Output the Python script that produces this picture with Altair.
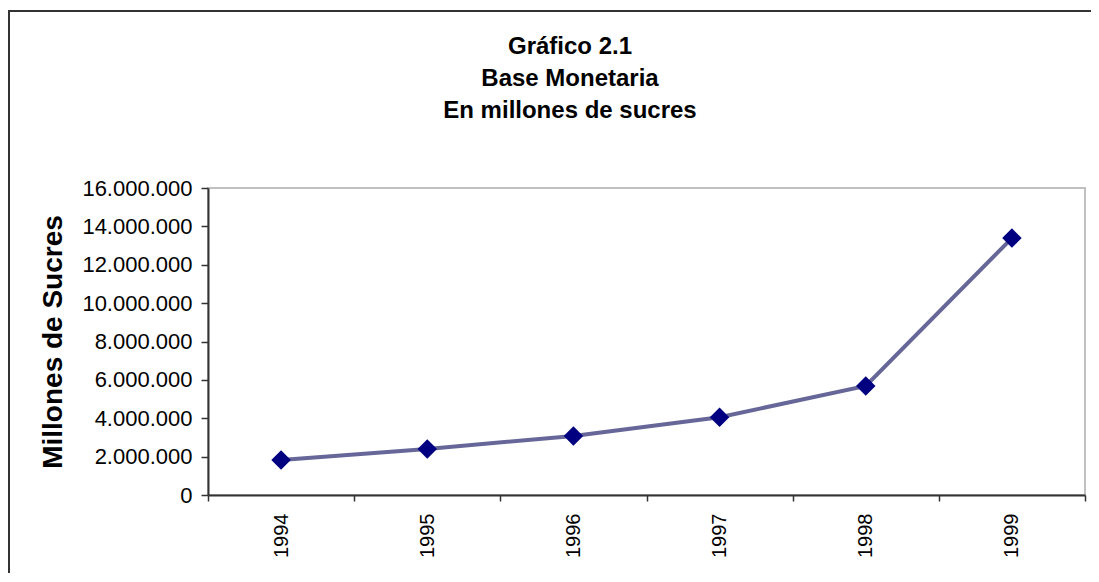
import altair as alt
import pandas as pd

years = ["1994", "1995", "1996", "1997", "1998", "1999"]
base_monetaria = [1826000, 2400000, 3078000, 4053000, 5686000, 13390000]
y_ticks = [0, 2000000, 4000000, 6000000, 8000000, 10000000, 12000000, 14000000, 16000000]
title_lines = ["Gráfico 2.1", "Base Monetaria", "En millones de sucres"]
y_title = "Millones de Sucres"

FONT = "Liberation Sans"

df = pd.DataFrame({"year": years, "value": base_monetaria})

x_enc = alt.X(
    "year:O",
    sort=years,
    scale=alt.Scale(paddingInner=0, paddingOuter=0),
    axis=alt.Axis(
        title=None,
        tickBand="extent",
        labelAngle=-90,
        labelFontSize=20,
        labelFont=FONT,
        labelColor="#000000",
        labelPadding=12,
        labelOverlap=False,
        tickSize=6,
        tickColor="#333333",
        tickWidth=1.5,
        domainColor="#333333",
        domainWidth=2,
        grid=False,
    ),
)
y_enc = alt.Y(
    "value:Q",
    scale=alt.Scale(domain=[0, 16000000], nice=False),
    axis=alt.Axis(
        title=y_title,
        values=y_ticks,
        labelExpr="join(split(format(datum.value, ','), ','), '.')",
        labelFontSize=22,
        labelFont=FONT,
        labelColor="#000000",
        labelPadding=9,
        labelOverlap=False,
        labelBound=False,
        tickSize=7,
        tickColor="#333333",
        tickWidth=1.5,
        domainColor="#333333",
        domainWidth=2,
        grid=False,
        titleFont=FONT,
        titleFontSize=28,
        titleFontWeight="bold",
        titleColor="#000000",
        titleAngle=270,
        titleX=-155,
        titleY=153.5,
        titleAlign="center",
        titleBaseline="middle",
    ),
)

base = alt.Chart(df).encode(x=x_enc, y=y_enc)
line = base.mark_line(color="#666699", strokeWidth=4)
points = base.mark_point(shape="diamond", filled=True, size=380, color="#000080", opacity=1)

one = pd.DataFrame({"k": [0]})
frame_top = alt.Chart(one).mark_rule(stroke="#333333", strokeWidth=2).encode(
    x=alt.value(-200), x2=alt.value(900), y=alt.value(-177)
)
frame_left = alt.Chart(one).mark_rule(stroke="#333333", strokeWidth=2).encode(
    x=alt.value(-199), y=alt.value(-178), y2=alt.value(390)
)

title = alt.Chart(one).mark_text(
    text=title_lines,
    lineHeight=32,
    font=FONT,
    fontSize=24,
    fontWeight="bold",
    color="#000000",
    align="center",
    baseline="middle",
).encode(x=alt.value(362), y=alt.value(-141))

chart = alt.layer(frame_top, frame_left, title, line, points).properties(
    width=877,
    height=307,
    autosize=alt.AutoSizeParams(type="none"),
    padding={"left": 200, "top": 180, "right": 6, "bottom": 78},
).configure_view(stroke="#c0c0c0", strokeWidth=2)

chart.save("out.html", embed_options={"renderer": "svg", "actions": False})
